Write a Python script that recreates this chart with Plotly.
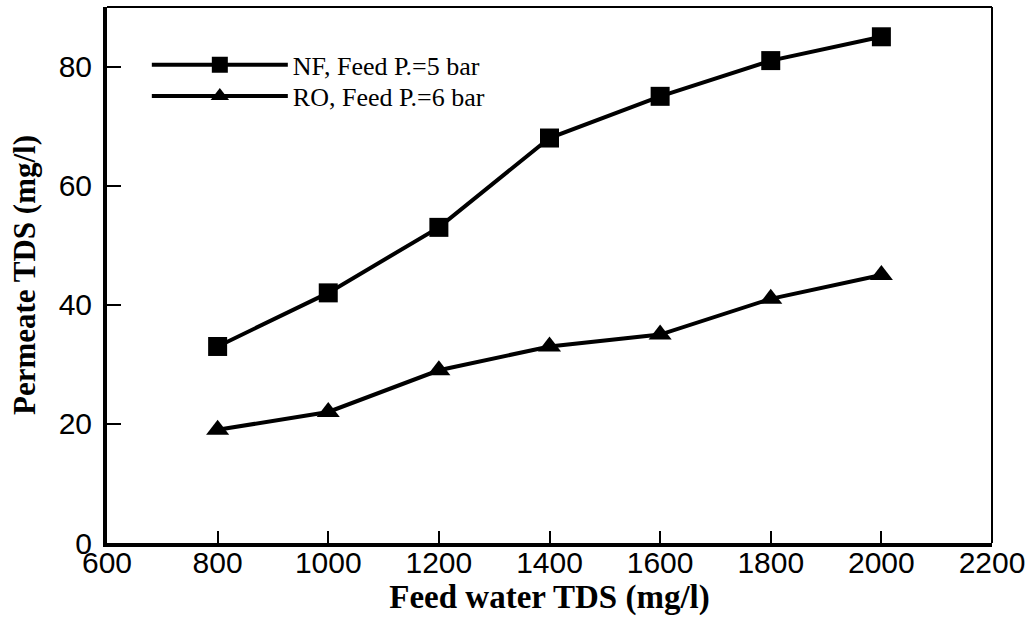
import plotly.graph_objects as go

feed_tds = [800, 1000, 1200, 1400, 1600, 1800, 2000]
nf_permeate = [33, 42, 53, 68, 75, 81, 85]
ro_permeate = [19, 22, 29, 33, 35, 41, 45]
series_names = ["NF, Feed P.=5 bar", "RO, Feed P.=6 bar"]
x_ticks = [600, 800, 1000, 1200, 1400, 1600, 1800, 2000, 2200]
y_ticks = [0, 20, 40, 60, 80]

fig = go.Figure()
fig.add_trace(go.Scatter(
    x=feed_tds, y=nf_permeate, name=series_names[0], mode="lines+markers",
    line=dict(color="black", width=4),
    marker=dict(symbol="square", size=19, color="black"),
    legend="legend",
))
fig.add_trace(go.Scatter(
    x=feed_tds, y=ro_permeate, name=series_names[1], mode="lines+markers",
    line=dict(color="black", width=4),
    marker=dict(symbol="triangle-up", size=20, color="black"),
    legend="legend2",
))

tick_font = dict(family="Liberation Sans, Arial", size=30, color="black")
serif = "Liberation Serif, Times New Roman"
legend_common = dict(
    xanchor="left", yanchor="middle", bgcolor="rgba(0,0,0,0)", itemwidth=136,
    font=dict(family=serif, size=26, color="black"),
)

fig.update_layout(
    width=1034, height=622,
    margin=dict(l=107, r=42, t=7, b=79),
    paper_bgcolor="white", plot_bgcolor="white",
    showlegend=True,
    legend=dict(x=0.045, y=0.892, **legend_common),
    legend2=dict(x=0.045, y=0.834, **legend_common),
    xaxis=dict(
        range=[600, 2200], tickvals=x_ticks, ticks="inside", ticklen=12, tickwidth=2,
        tickcolor="black", showline=True, linewidth=4, linecolor="black",
        showgrid=False, zeroline=False, tickfont=tick_font, ticklabelstandoff=-10,
        title=dict(text="<b>Feed water TDS (mg/l)</b>",
                   font=dict(family=serif, size=33, color="black"), standoff=7),
    ),
    yaxis=dict(
        range=[0, 90], tickvals=y_ticks, ticks="inside", ticklen=14, tickwidth=2,
        tickcolor="black", showline=True, linewidth=4, linecolor="black",
        showgrid=False, zeroline=False, tickfont=tick_font, ticklabelstandoff=5,
        title=dict(text="<b>Permeate TDS (mg/l)</b>",
                   font=dict(family=serif, size=31, color="black"), standoff=15),
    ),
    shapes=[
        dict(type="line", xref="paper", yref="paper", x0=0, x1=1, y0=1, y1=1,
             line=dict(color="black", width=2)),
        dict(type="line", xref="paper", yref="paper", x0=1, x1=1, y0=0, y1=1,
             line=dict(color="black", width=2)),
    ],
)

fig.write_html("out.html")
